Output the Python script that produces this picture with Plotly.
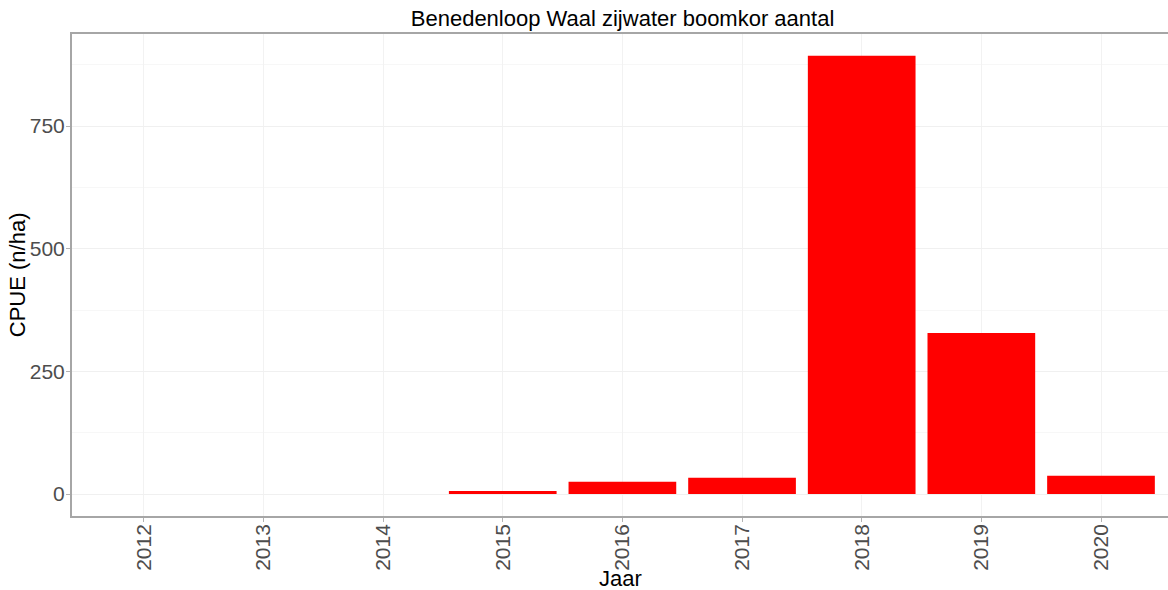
import plotly.graph_objects as go

# Jaar en CPUE (n/ha)
jaren = ["2012", "2013", "2014", "2015", "2016", "2017", "2018", "2019", "2020"]
cpue = [0, 0, 0, 6, 25, 33, 893, 328, 37]

fig = go.Figure()

fig.add_trace(go.Bar(
    x=jaren,
    y=cpue,
    width=0.9,
    marker=dict(color="#FF0000", line=dict(width=0)),
    hovertemplate="%{x}: %{y}<extra></extra>",
))

fig.update_layout(
    width=1168,
    height=590,
    margin=dict(l=72, r=0, t=34, b=74, autoexpand=False),
    paper_bgcolor="white",
    plot_bgcolor="white",
    font=dict(family="Liberation Sans, Arial, sans-serif", color="#000000"),
    title=dict(
        text="Benedenloop Waal zijwater boomkor aantal",
        x=0.533, xanchor="center", y=0.969, yanchor="middle",
        font=dict(size=22, color="#000000"),
    ),
    showlegend=False,
)

# axis titles as annotations, so they sit where ggplot puts them
fig.add_annotation(text="Jaar", xref="paper", yref="paper", x=0.5, y=-0.13,
                   xanchor="center", yanchor="middle", showarrow=False,
                   font=dict(size=22, color="#000000"))
fig.add_annotation(text="CPUE (n/ha)", xref="paper", yref="paper", x=-0.05, y=0.5,
                   xanchor="center", yanchor="middle", textangle=-90, showarrow=False,
                   font=dict(size=22, color="#000000"))

fig.update_xaxes(
    type="category",
    range=[-0.6, 8.56],
    automargin=False,
    tickangle=-90,
    tickfont=dict(size=21, color="#4D4D4D"),
    ticklabelstandoff=-6,
    showgrid=True, gridcolor="#F2F2F2", gridwidth=1,
    showline=True, linecolor="#A6A6A6", linewidth=1.5, mirror=True,
    ticks="outside", ticklen=4, tickcolor="#B3B3B3",
    zeroline=False,
)

fig.update_yaxes(
    range=[-44.8, 937.5],
    automargin=False,
    tickvals=[0, 250, 500, 750],
    tickfont=dict(size=21, color="#4D4D4D"),
    ticklabelstandoff=-3,
    showgrid=True, gridcolor="#F0F0F0", gridwidth=1,
    minor=dict(tickvals=[125, 375, 625, 875], showgrid=True, gridcolor="#F7F7F7", gridwidth=1),
    showline=True, linecolor="#A6A6A6", linewidth=2, mirror=True,
    ticks="outside", ticklen=4, tickcolor="#B3B3B3",
    zeroline=False,
)

# the page body has an 8px default margin; drop it so the figure starts at 0,0
fig.write_html("out.html", config={"displayModeBar": False},
               post_script="document.body.style.margin='0';")
